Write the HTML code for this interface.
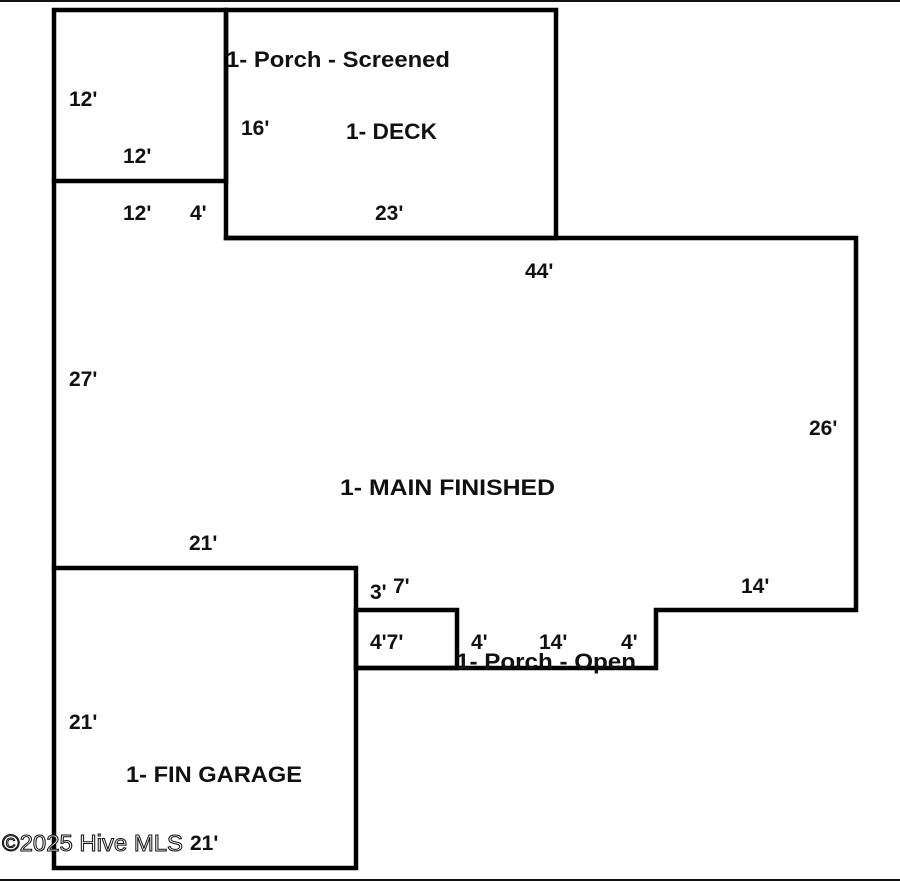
<!DOCTYPE html>
<html><head><meta charset="utf-8"><style>
html,body{margin:0;padding:0;background:#fff;width:900px;height:881px;overflow:hidden}
svg{display:block}
.t{font-family:"Liberation Sans",sans-serif;font-weight:bold;font-size:21px;fill:#111}
.L{font-family:"Liberation Sans",sans-serif;font-weight:bold;font-size:22px;fill:#111}
.w{font-family:"Liberation Sans",sans-serif;font-size:23px;fill:#fff;stroke:#111;stroke-width:1}
</style></head><body>
<svg width="900" height="881" viewBox="0 0 900 881">
<rect x="0" y="0" width="900" height="2" fill="#111"/>
<rect x="0" y="879" width="900" height="2" fill="#111"/>
<g fill="none" stroke="#000" stroke-width="4.5" stroke-linejoin="miter" stroke-linecap="square">
<rect x="54" y="10" width="172" height="171"/>
<rect x="226" y="10" width="330" height="228"/>
<polyline points="54,181 54,568"/>
<polyline points="226,238 856,238 856,610 656,610 656,668 356,668"/>
<rect x="356" y="610" width="101" height="58"/>
<rect x="54" y="568" width="302" height="300"/>
</g>
<text class="L" x="226" y="67" textLength="224" lengthAdjust="spacingAndGlyphs">1- Porch - Screened</text>
<text class="t" x="69" y="106">12'</text>
<text class="t" x="241" y="135">16'</text>
<text class="L" x="346" y="139" textLength="91" lengthAdjust="spacingAndGlyphs">1- DECK</text>
<text class="t" x="123" y="163">12'</text>
<text class="t" x="123" y="220">12'</text>
<text class="t" x="190" y="220">4'</text>
<text class="t" x="375" y="220">23'</text>
<text class="t" x="525" y="278">44'</text>
<text class="t" x="69" y="386">27'</text>
<text class="t" x="809" y="435">26'</text>
<text class="L" x="340" y="495" textLength="215" lengthAdjust="spacingAndGlyphs">1- MAIN FINISHED</text>
<text class="t" x="189" y="550">21'</text>
<text class="t" x="370" y="599">3'</text>
<text class="t" x="393" y="593">7'</text>
<text class="t" x="741" y="593">14'</text>
<text class="t" x="370" y="649">4'7'</text>
<text class="t" x="471" y="649">4'</text>
<text class="t" x="539" y="649">14'</text>
<text class="t" x="621" y="649">4'</text>
<text class="L" x="456" y="669" textLength="180" lengthAdjust="spacingAndGlyphs">1- Porch - Open</text>
<text class="t" x="69" y="729">21'</text>
<text class="L" x="126" y="782" textLength="176" lengthAdjust="spacingAndGlyphs">1- FIN GARAGE</text>
<text class="w" x="2" y="851" textLength="181" lengthAdjust="spacingAndGlyphs">©2025 Hive MLS</text>
<text class="t" x="190" y="850">21'</text>
</svg>
</body></html>
